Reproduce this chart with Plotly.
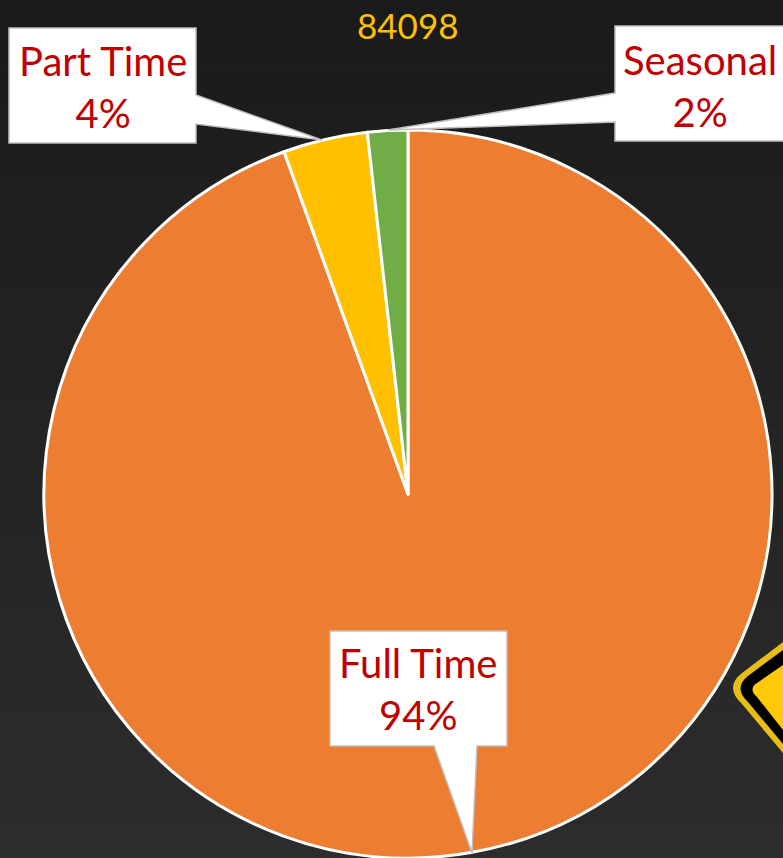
import plotly.graph_objects as go

W, H = 783, 858

categories = ["Full Time", "Part Time", "Seasonal"]
values = [79448, 3150, 1500]
slice_colors = ["#ED7D31", "#FFC000", "#70AD47"]
total_label = "84098"


def fx(x):
    return x / W


def fy(y):
    return 1 - y / H


def path(points):
    return "M " + " L ".join(f"{fx(x):.5f} {fy(y):.5f}" for x, y in points) + " Z"


def curve(start, corner_a, ctrl, corner_b, end):
    return (
        f"M {fx(start[0]):.5f} {fy(start[1]):.5f} "
        f"L {fx(corner_a[0]):.5f} {fy(corner_a[1]):.5f} "
        f"Q {fx(ctrl[0]):.5f} {fy(ctrl[1]):.5f} {fx(corner_b[0]):.5f} {fy(corner_b[1]):.5f} "
        f"L {fx(end[0]):.5f} {fy(end[1]):.5f} Z"
    )


shapes = []

# dark backdrop: stepped vertical gradient
bands = 24
for i in range(bands):
    t = i / (bands - 1)
    v = round(0x1b + (0x2c - 0x1b) * t)
    shapes.append(dict(type="rect", xref="paper", yref="paper", layer="below",
                       x0=0, x1=1, y0=1 - i / bands, y1=1 - (i + 1) / bands,
                       fillcolor=f"rgb({v},{v},{v})", line_width=0))

# warning sign, cut off by the right edge
for fill, pts in [
    ("#E8BE12", ((783, 642), (742, 673), (724, 687), (742, 704), (783, 753))),
    ("#000000", ((783, 650), (748, 676), (733, 688), (748, 702), (783, 744))),
    ("#FFC90A", ((783, 665), (757, 683), (748, 689), (757, 697), (783, 730))),
]:
    shapes.append(dict(type="path", xref="paper", yref="paper", layer="above",
                       path=curve(*pts), fillcolor=fill, line_width=0))

# callouts
callouts = [
    [(9, 28), (196, 28), (196, 95), (322, 140), (196, 124), (196, 143), (9, 143)],
    [(615, 26), (790, 26), (790, 141), (615, 141), (615, 122), (388, 130), (615, 93)],
    [(330, 631), (507, 631), (507, 746), (477, 746), (472, 853), (434, 746), (330, 746)],
]
for pts in callouts:
    shapes.append(dict(type="path", xref="paper", yref="paper", layer="above",
                       path=path(pts), fillcolor="#FFFFFF",
                       line=dict(color="#BFBFBF", width=1.5)))

label_pos = [(418, 689), (103, 87), (700, 86)]
total = sum(values)
annotations = [
    dict(x=fx(x), y=fy(y), xref="paper", yref="paper", showarrow=False,
         xanchor="center", yanchor="middle",
         text=f"{c}<br>{round(v / total * 100)}%", align="center",
         font=dict(family="Lato", size=40, color="#C00000"))
    for c, v, (x, y) in zip(categories, values, label_pos)
]
annotations.append(dict(x=fx(408), y=fy(25), xref="paper", yref="paper", showarrow=False,
                        xanchor="center", yanchor="middle",
                        text=total_label, font=dict(family="Lato", size=35, color="#FFC000")))

fig = go.Figure(go.Pie(
    labels=categories, values=values, sort=False, direction="clockwise", rotation=0,
    textinfo="none", hoverinfo="label+percent",
    marker=dict(colors=slice_colors, line=dict(color="#FFFFFF", width=3)),
    domain=dict(x=[fx(43), fx(773)], y=[0, fy(130)]),
))
fig.update_layout(
    width=W, height=H, margin=dict(l=0, r=0, t=0, b=0), showlegend=False,
    paper_bgcolor="#222222", plot_bgcolor="#222222",
    shapes=shapes, annotations=annotations,
)
fig.write_html(
    "out.html",
    config=dict(displayModeBar=False),
    post_script="document.documentElement.style.overflow='hidden';"
                "document.body.style.margin='0';document.body.style.background='#222222';",
)
